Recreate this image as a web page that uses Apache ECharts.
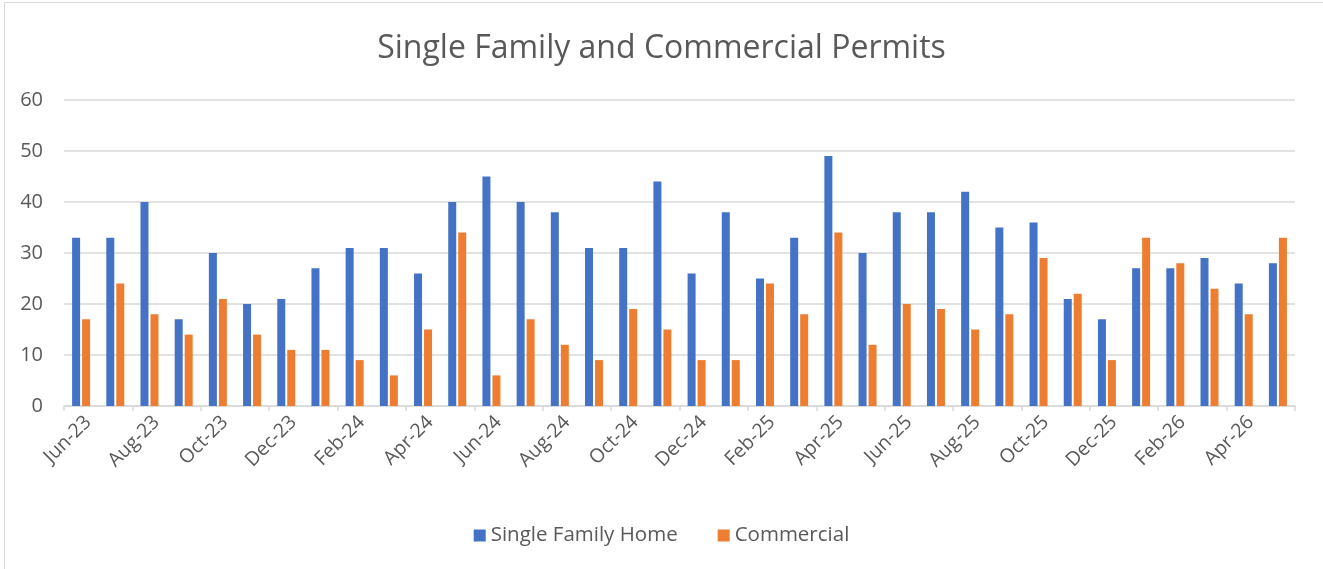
<!DOCTYPE html>
<html>
<head>
<meta charset="utf-8">
<script src="https://cdn.jsdelivr.net/npm/echarts@6/dist/echarts.min.js"></script>
<style>
  html, body { margin: 0; padding: 0; background: #fff; }
  #main { width: 1323px; height: 569px; }
</style>
</head>
<body>
<div id="main"></div>
<script>
var months = ['Jun-23','Jul-23','Aug-23','Sep-23','Oct-23','Nov-23','Dec-23','Jan-24','Feb-24','Mar-24',
  'Apr-24','May-24','Jun-24','Jul-24','Aug-24','Sep-24','Oct-24','Nov-24','Dec-24','Jan-25',
  'Feb-25','Mar-25','Apr-25','May-25','Jun-25','Jul-25','Aug-25','Sep-25','Oct-25','Nov-25',
  'Dec-25','Jan-26','Feb-26','Mar-26','Apr-26','May-26'];
var singleFamily = [33, 33, 40, 17, 30, 20, 21, 27, 31, 31,
  26, 40, 45, 40, 38, 31, 31, 44, 26, 38,
  25, 33, 49, 30, 38, 38, 42, 35, 36, 21,
  17, 27, 27, 29, 24, 28];
var commercial = [17, 24, 18, 14, 21, 14, 11, 11, 9, 6,
  15, 34, 6, 17, 12, 9, 19, 15, 9, 9,
  24, 18, 34, 12, 20, 19, 15, 18, 29, 22,
  9, 33, 28, 23, 18, 33];

var font = '"Open Sans", "Noto Sans", sans-serif';
var textColor = '#595959';
var lineColor = '#d9d9d9';

var chartDom = document.getElementById('main');
var myChart = echarts.init(chartDom);
var option = {
    animation: false,
    textStyle: { fontFamily: font, color: textColor },
    title: {
        text: 'Single Family and Commercial Permits',
        left: 'center',
        top: 28,
        textStyle: { fontFamily: font, fontSize: 32, fontWeight: 'normal', color: textColor }
    },
    graphic: [{
        type: 'rect',
        shape: { x: 4.5, y: 2.5, width: 1340, height: 620 },
        style: { fill: 'none', stroke: lineColor, lineWidth: 1 },
        silent: true
    }],
    legend: {
        bottom: 18,
        left: 'center',
        itemWidth: 12,
        itemHeight: 12,
        itemGap: 40,
        icon: 'rect',
        textStyle: { fontFamily: font, fontSize: 20.5, color: textColor }
    },
    grid: {
        left: 64,
        right: 28,
        top: 100,
        bottom: 163
    },
    xAxis: {
        type: 'category',
        data: months,
        axisLine: { lineStyle: { color: lineColor, width: 1.5 } },
        axisTick: { show: true, interval: 1, length: 5, lineStyle: { color: lineColor, width: 1.5 } },
        axisLabel: {
            interval: 1,
            rotate: 45,
            margin: 6,
            verticalAlign: 'top',
            fontFamily: font,
            fontSize: 19.5,
            color: textColor
        }
    },
    yAxis: {
        type: 'value',
        min: 0,
        max: 60,
        interval: 10,
        axisLine: { show: false },
        axisTick: { show: false },
        splitLine: { lineStyle: { color: lineColor, width: 1.5 } },
        axisLabel: { fontFamily: font, fontSize: 20, color: textColor, margin: 21 }
    },
    series: [
        {
            name: 'Single Family Home',
            type: 'bar',
            data: singleFamily,
            barWidth: 8,
            barGap: '25%',
            itemStyle: { color: '#4472C4' }
        },
        {
            name: 'Commercial',
            type: 'bar',
            data: commercial,
            barWidth: 8,
            itemStyle: { color: '#ED7D31' }
        }
    ]
};
myChart.setOption(option);
</script>
</body>
</html>
